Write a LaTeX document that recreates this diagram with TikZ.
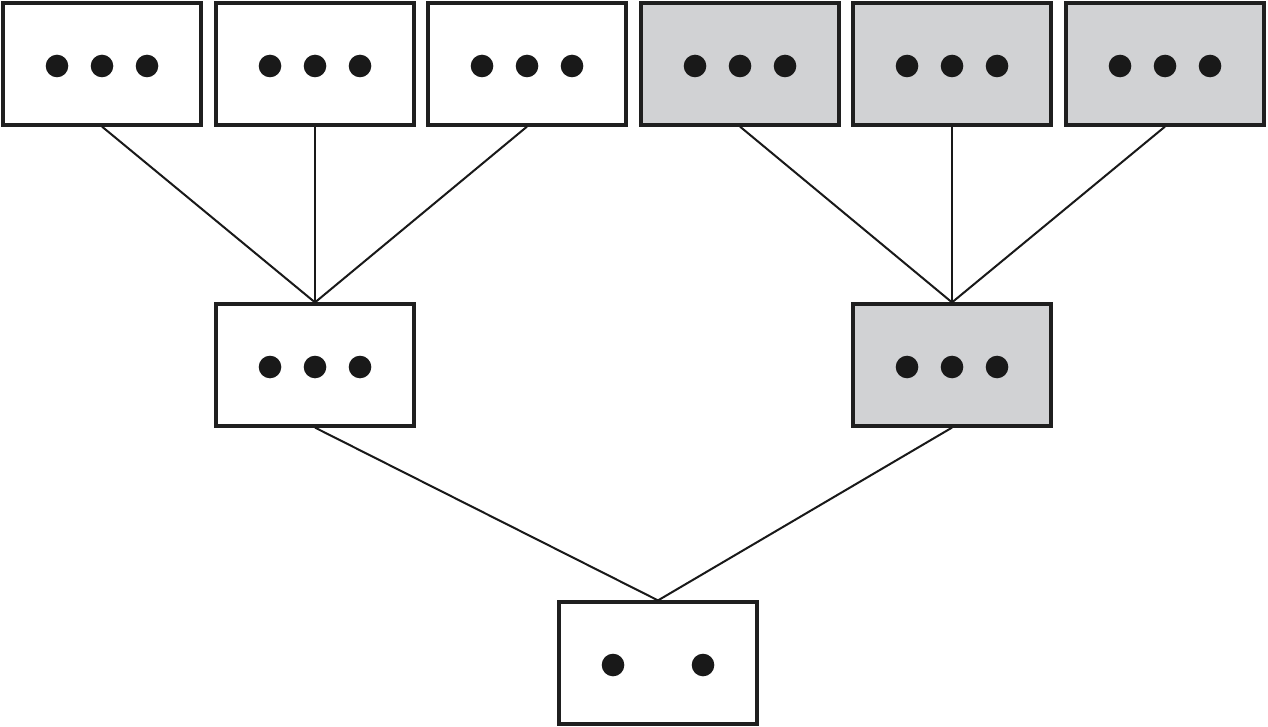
\documentclass[tikz,border=0pt]{standalone}
\definecolor{boxgray}{HTML}{D1D2D4}
\begin{document}
\begin{tikzpicture}[x=1pt,y=-1pt,
  box/.style={draw=black!88,line width=3.2pt,minimum width=198pt,minimum height=122pt,inner sep=0pt,fill=white},
  gbox/.style={box,fill=boxgray},
  link/.style={draw=black!90,line width=2pt},
  dot/.style={fill=black!90}]
\useasboundingbox (0,0) rectangle (1268,727);
% top row
\node[box]  (t1) at (102,64) {};
\node[box]  (t2) at (315,64) {};
\node[box]  (t3) at (527,64) {};
\node[gbox] (t4) at (740,64) {};
\node[gbox] (t5) at (952,64) {};
\node[gbox] (t6) at (1165,64) {};
% middle row
\node[box]  (m1) at (315,365) {};
\node[gbox] (m2) at (952,365) {};
% bottom
\node[box]  (b)  at (658,663) {};
% connectors
\draw[link] (t1.south) -- (m1.north);
\draw[link] (t2.south) -- (m1.north);
\draw[link] (t3.south) -- (m1.north);
\draw[link] (t4.south) -- (m2.north);
\draw[link] (t5.south) -- (m2.north);
\draw[link] (t6.south) -- (m2.north);
\draw[link] (m1.south) -- (b.north);
\draw[link] (m2.south) -- (b.north);
% dots
\foreach \n in {t1,t2,t3,t4,t5,t6,m1,m2}{
  \fill[dot] ([xshift=-45pt,yshift=-2pt]\n.center) circle (11.3pt);
  \fill[dot] ([yshift=-2pt]\n.center) circle (11.3pt);
  \fill[dot] ([xshift=45pt,yshift=-2pt]\n.center) circle (11.3pt);
}
\fill[dot] ([xshift=-45pt,yshift=-2pt]b.center) circle (11.3pt);
\fill[dot] ([xshift=45pt,yshift=-2pt]b.center) circle (11.3pt);
\end{tikzpicture}
\end{document}
